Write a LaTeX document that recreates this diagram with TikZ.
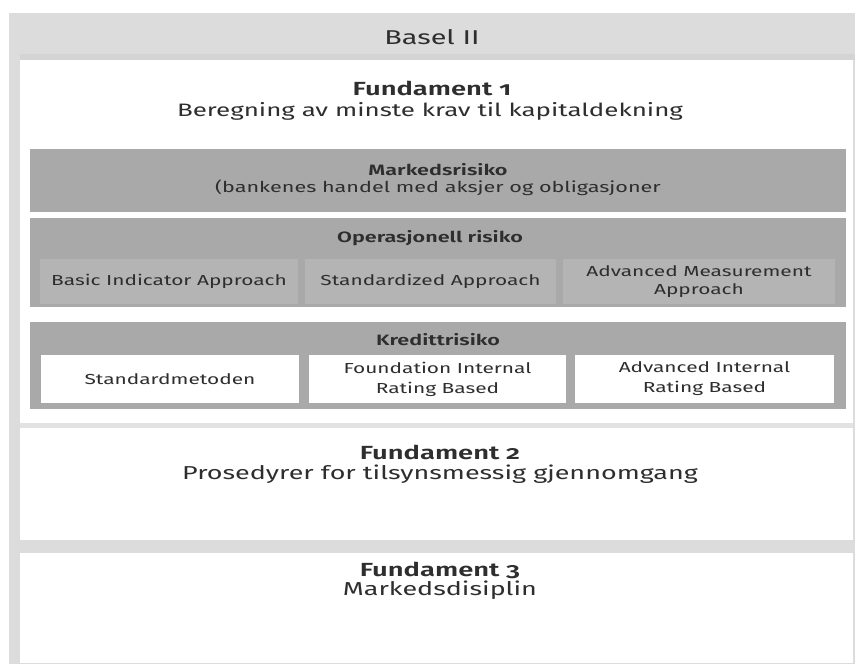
\documentclass[tikz,border=0pt]{standalone}
\usepackage{fontspec}
\setmainfont{Fira Sans}[Numbers=OldStyle, FakeStretch=1.44, BoldFont={Fira Sans SemiBold}]
\definecolor{outergrey}{HTML}{DCDCDC}
\definecolor{sepgrey}{HTML}{E2E2E2}
\definecolor{hdrline}{HTML}{D4D4D4}
\definecolor{boxgrey}{HTML}{A9A9A9}
\definecolor{subgrey}{HTML}{B4B4B4}
\definecolor{txt}{HTML}{2E2E2E}
\tikzset{
  panel/.style={anchor=north west, inner sep=0pt, outer sep=0pt, fill=white, draw=none},
  riskbox/.style={anchor=north west, inner sep=0pt, outer sep=0pt, fill=boxgrey, draw=none},
  opsub/.style={anchor=north west, inner sep=0pt, outer sep=0pt, fill=subgrey, draw=none},
  credsub/.style={anchor=north west, inner sep=0pt, outer sep=0pt, fill=white, draw=none},
  lbl/.style={text=txt, inner sep=0pt, align=center},
  big/.style={lbl, font=\fontsize{18}{21}\selectfont},
  bigl/.style={lbl, font=\fontsize{18.7}{22}\selectfont},
  bigb/.style={lbl, font=\fontsize{19}{22}\selectfont\bfseries},
  med/.style={lbl, font=\fontsize{15}{18}\selectfont},
  medb/.style={lbl, font=\fontsize{15}{18}\selectfont\bfseries},
  small/.style={lbl, font=\fontsize{14.5}{17.5}\selectfont},
  smallw/.style={lbl, font=\fontsize{14.5}{20}\selectfont},
}
\begin{document}
\begin{tikzpicture}[x=1pt,y=-1pt]
\useasboundingbox (0,0) rectangle (855,666);
\fill[white] (0,0) rectangle (855,666);
% outer frame
\node[anchor=north west, inner sep=0pt, fill=outergrey, minimum width=846pt, minimum height=651pt] (frame) at (9,13) {};
\fill[hdrline] (20,54) rectangle (855,60);
% header text
\node[lbl, font=\fontsize{20}{24}\selectfont] (basel) at (432,37) {Basel II};
% panels
\node[panel, minimum width=833pt, minimum height=363pt] (p1) at (20,60) {};
\node[panel, minimum width=833pt, minimum height=112pt] (p2) at (20,428) {};
\node[panel, minimum width=833pt, minimum height=110pt] (p3) at (20,553) {};
\fill[sepgrey] (20,423) rectangle (853,428);
% Fundament 1
\node[bigb] (f1) at (432,88) {Fundament 1};
\node[big] (f1t) at (430,111) {Beregning av minste krav til kapitaldekning};
% Markedsrisiko
\node[riskbox, minimum width=816pt, minimum height=63pt] (mr) at (30,149) {};
\node[medb] (mrt) at (438,170) {Markedsrisiko};
\node[med] (mrs) at (438,188) {(bankenes handel med aksjer og obligasjoner};
% Operasjonell risiko
\node[riskbox, minimum width=816pt, minimum height=89pt] (op) at (30,218) {};
\node[medb] (opt) at (430,238) {Operasjonell risiko};
\node[opsub, minimum width=258pt, minimum height=45pt] (op1) at (40,259) {};
\node[opsub, minimum width=251pt, minimum height=45pt] (op2) at (305,259) {};
\node[opsub, minimum width=272pt, minimum height=45pt] (op3) at (563,259) {};
\node[small] at (op1.center) {Basic Indicator Approach};
\node[small] at (op2.center) {Standardized Approach};
\node[small] at (op3.center) {Advanced Measurement\\Approach};
% Kredittrisiko
\node[riskbox, minimum width=816pt, minimum height=87pt] (kr) at (30,322) {};
\node[medb] (krt) at (438,340) {Kredittrisiko};
\node[credsub, minimum width=258pt, minimum height=48pt] (kr1) at (41,355) {};
\node[credsub, minimum width=257pt, minimum height=48pt] (kr2) at (309,355) {};
\node[credsub, minimum width=259pt, minimum height=48pt] (kr3) at (575,355) {};
\node[small] at (kr1.center) {Standardmetoden};
\node[smallw] at (kr2.center) {Foundation Internal\\Rating Based};
\node[smallw] at (kr3.center) {Advanced Internal\\Rating Based};
% Fundament 2
\node[bigb] (f2) at (440,452) {Fundament 2};
\node[bigl] (f2t) at (440,474) {Prosedyrer for tilsynsmessig gjennomgang};
% Fundament 3
\node[bigb] (f3) at (440,570) {Fundament 3};
\node[bigl] (f3t) at (440,590) {Markedsdisiplin};
\end{tikzpicture}
\end{document}
